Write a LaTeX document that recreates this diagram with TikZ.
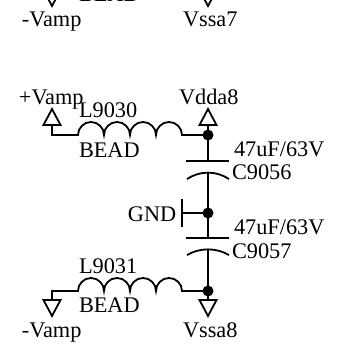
\documentclass[tikz,border=0pt]{standalone}
\usepackage{fontspec}
\setmainfont{Liberation Serif}
\tikzset{
  wire/.style={line width=1.8pt,line cap=butt,line join=miter},
  lab/.style={anchor=base west,inner sep=0pt,outer sep=0pt,font=\fontsize{22.3}{24}\selectfont,text=black},
  junction/.style={circle,fill=black,inner sep=0pt,minimum size=11pt},
}
\newcommand{\railup}[1]{\draw[wire] ($(#1)+(-8.5,0)$) -- ($(#1)+(8.5,0)$) -- ($(#1)+(0,-16)$) -- cycle;}
\newcommand{\raildown}[1]{\draw[wire] ($(#1)+(-8.5,0)$) -- ($(#1)+(8.5,0)$) -- ($(#1)+(0,16)$) -- cycle;}
\usetikzlibrary{calc}
\begin{document}
\begin{tikzpicture}[x=1pt,y=-1pt]
\useasboundingbox (0,0) rectangle (342,349);
\begin{scope}
\clip (0,0) rectangle (342,349);
% top fragment
\coordinate (topL) at (52,-10);
\coordinate (topR) at (208,-10);
\raildown{topL}
\raildown{topR}
\node[lab] (beadTop) at (79,1) {BEAD};
\end{scope}
\node[lab] (vampTop) at (22,26) {-Vamp};
\node[lab] (vssa7) at (183,26) {Vssa7};
% upper network
\node[lab] (vampPlus) at (19,104) {+Vamp};
\node[lab] (vdda8) at (179,104) {Vdda8};
\node[lab] (l9030) at (79,117) {L9030};
\node[lab] (bead1) at (79,157) {BEAD};
\node[lab] (v1) at (234,156) {47uF/63V};
\node[lab] (c9056) at (232,179) {C9056};
\node[lab] (gnd) at (128,221) {GND};
\node[lab] (v2) at (234,234) {47uF/63V};
\node[lab] (c9057) at (232,258) {C9057};
\node[lab] (l9031) at (79,273) {L9031};
\node[lab] (bead2) at (79,312) {BEAD};
\node[lab] (vampBot) at (22,337) {-Vamp};
\node[lab] (vssa8) at (183,337) {Vssa8};

\coordinate (railA) at (52,125);
\coordinate (railB) at (208,125);
\coordinate (railC) at (52,300);
\coordinate (railD) at (208,300);
\railup{railA}
\railup{railB}
\raildown{railC}
\raildown{railD}

\node[junction] (j1) at (208,135) {};
\node[junction] (j2) at (208,213) {};
\node[junction] (j3) at (208,291) {};
\coordinate (p1) at (208,161);
\coordinate (p2) at (208,172);
\coordinate (p3) at (208,238);
\coordinate (p4) at (208,250);
\coordinate (g) at (182,213);

\draw[wire] (railA) -- (52,135) -- (78,135) arc[start angle=180,end angle=0,radius=13,y radius=-13]
  arc[start angle=180,end angle=0,radius=13,y radius=-13]
  arc[start angle=180,end angle=0,radius=13,y radius=-13]
  arc[start angle=180,end angle=0,radius=13,y radius=-13] -- (j1.center);
\draw[wire] (railC) -- (52,291) -- (78,291) arc[start angle=180,end angle=0,radius=13,y radius=-13]
  arc[start angle=180,end angle=0,radius=13,y radius=-13]
  arc[start angle=180,end angle=0,radius=13,y radius=-13]
  arc[start angle=180,end angle=0,radius=13,y radius=-13] -- (j3.center);
\draw[wire] (railB) -- (j1.center) -- (p1);
\draw[wire] (p2) -- (j2.center) -- (p3);
\draw[wire] (p4) -- (j3.center) -- (railD);
\draw[wire] (186,161) -- (229,161);
\draw[wire] (186,238) -- (229,238);
\draw[wire] (187,179) .. controls (200,170.5) and (216,170.5) .. (229,179);
\draw[wire] (187,255) .. controls (200,247.5) and (216,247.5) .. (229,255);
\draw[wire] (g) -- (j2.center);
\draw[wire] (182,199) -- (182,227);
\end{tikzpicture}
\end{document}
